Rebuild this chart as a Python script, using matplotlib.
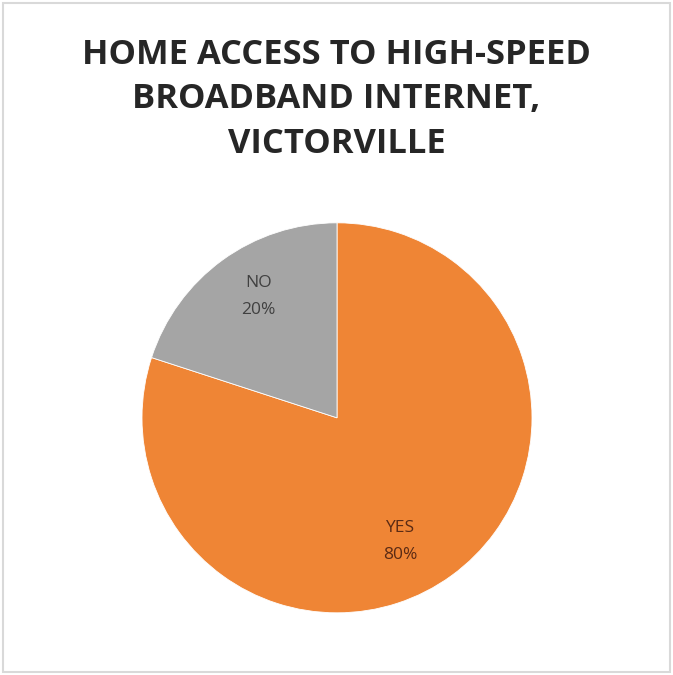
import matplotlib
matplotlib.use("Agg")
import matplotlib.pyplot as plt
from matplotlib.patches import Rectangle
import numpy as np

# Survey answers and their shares (percent)
categories = ["YES", "NO"]
shares = [80, 20]
colors = ["#EF8535", "#A5A5A5"]
label_colors = ["#5a2a14", "#404040"]

plt.rcParams["font.family"] = ["Open Sans", "DejaVu Sans"]

fig = plt.figure(figsize=(6.73, 6.75), dpi=100)
fig.patch.set_facecolor("white")

# light frame around the chart area
fig.patches.append(Rectangle((0.004, 0.004), 0.992, 0.992, transform=fig.transFigure,
                             fill=False, edgecolor="#d9d9d9", linewidth=1.5))

fig.text(0.5, 0.944, "HOME ACCESS TO HIGH-SPEED\nBROADBAND INTERNET,\nVICTORVILLE",
         ha="center", va="top", fontsize=24.8, fontweight="bold", color="#262626",
         linespacing=1.4)

ax = fig.add_axes([0.211, 0.092, 0.5795, 0.578])
labels = [f"{c}\n{v}%" for c, v in zip(categories, shares)]
wedges, texts = ax.pie(shares, labels=labels, colors=colors, startangle=90,
                       counterclock=False, labeldistance=0.72,
                       wedgeprops=dict(edgecolor="white", linewidth=0.6),
                       textprops=dict(fontsize=12.5, ha="center", va="center",
                                      linespacing=1.9))

# best-fit style label placement: nudge each label around its wedge
nudge = [(-9, 0.71), (-3, 0.74)]
for w, t, c, (dang, r) in zip(wedges, texts, label_colors, nudge):
    ang = np.deg2rad((w.theta1 + w.theta2) / 2 + dang)
    t.set_position((r * np.cos(ang), r * np.sin(ang)))
    t.set_color(c)

ax.set_xlim(-1, 1)
ax.set_ylim(-1, 1)
ax.set_aspect("equal")

fig.savefig("out.png", dpi=100, facecolor="white")
